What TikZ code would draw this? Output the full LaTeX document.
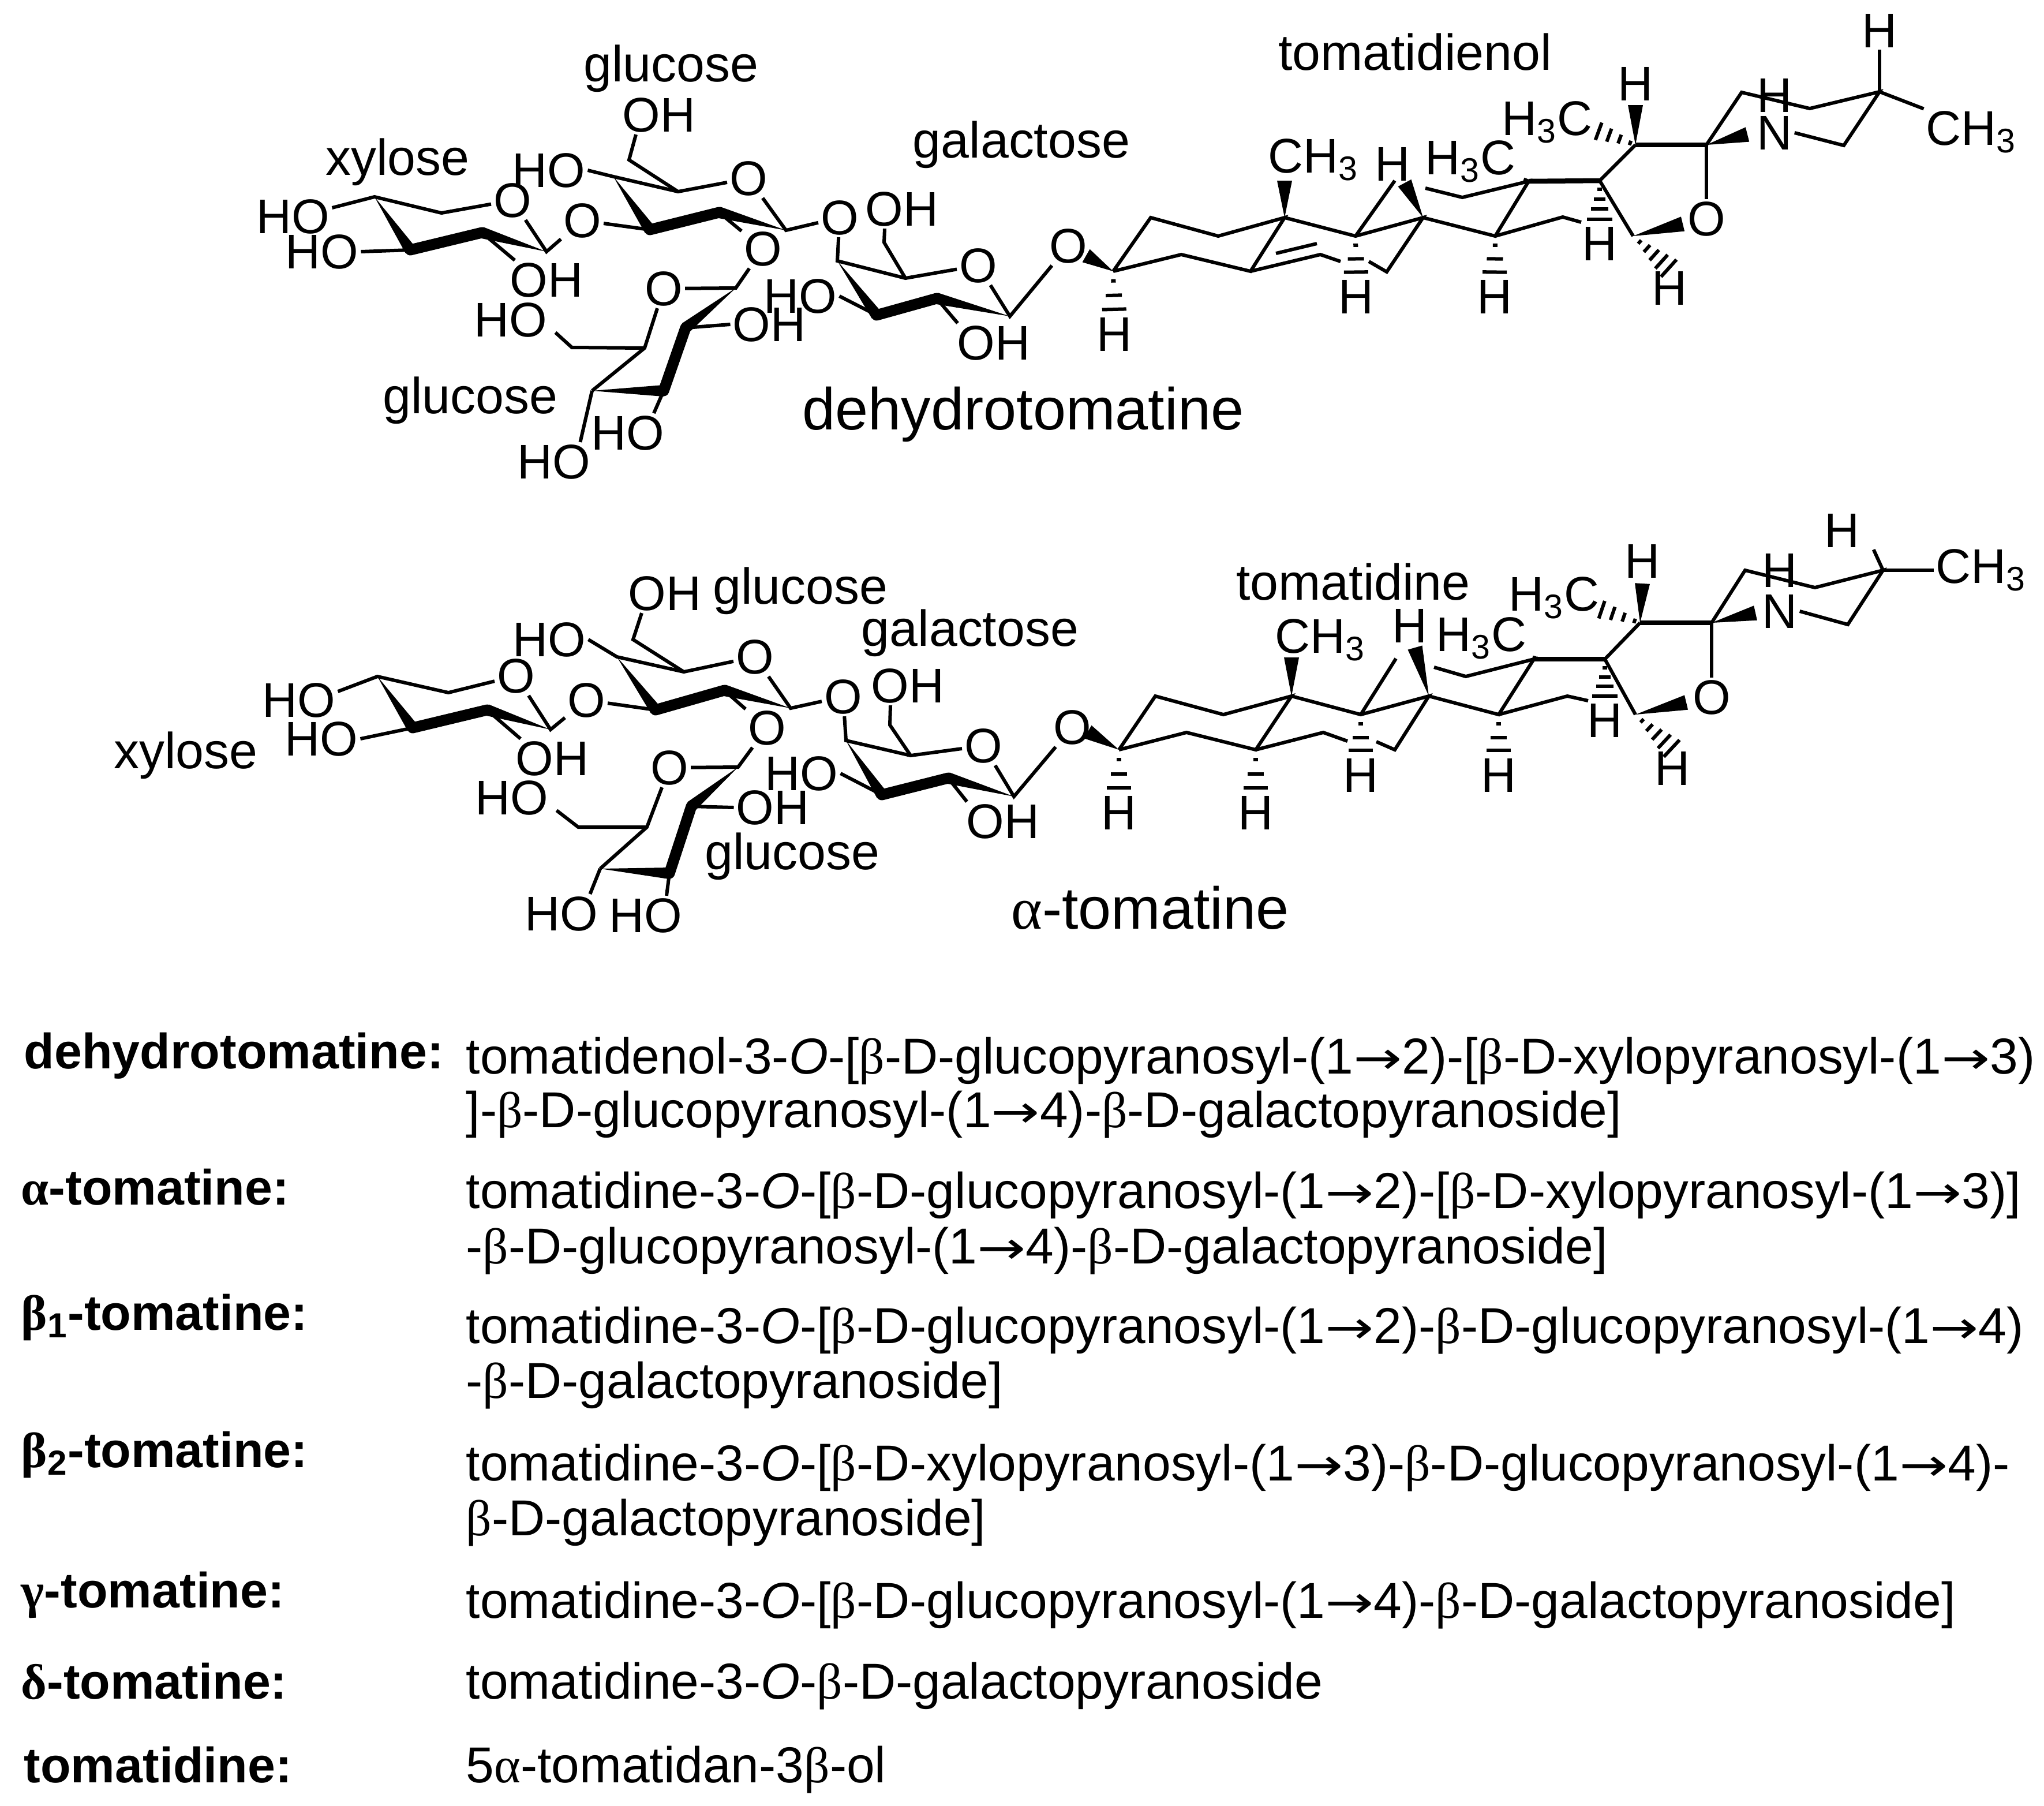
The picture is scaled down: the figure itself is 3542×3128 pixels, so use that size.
\documentclass[tikz,border=0pt]{standalone}
\usepackage{fontspec}
\setmainfont{Liberation Sans}
\newfontfamily\gk{Liberation Serif}
\newfontfamily\dv{DejaVu Sans}
\usetikzlibrary{calc}
\newcommand\grA{{\gk α}}
\newcommand\grB{{\gk β}}
\newcommand\grG{{\gk γ}}
\newcommand\grD{{\gk δ}}
\newcommand\arr{\scalebox{1.15}[.9]{\dv →}}
\newcommand\Ox{\textit{O}}
\newcommand\wdg[3][1mm]{\fill (#2) -- ($(#3)!#1!90:(#2)$) -- ($(#3)!#1!-90:(#2)$) -- cycle;}
\newcommand\hsh[3][.22/.4,.55/1.4,.87/2.1]{\foreach \t/\w in {#1}{\path ($(#2)!\t!(#3)$) coordinate (hm);\draw[line width=.6mm] ($(hm)!\w mm!90:(#3)$) -- ($(hm)!\w mm!-90:(#3)$);}}
\newcommand\pts[2]{\foreach \n/\x/\y in {#2}{\coordinate (#1\n) at (\x,\y);}}
\newcommand\ats[2]{\foreach \n/\x/\y/\t in {#2}{\node[atom] (#1\n) at (\x,\y) {\t};}}
% sugar part, common to both molecules
\newcommand\sugars[1]{%
 \draw[bond] ([yshift=1.5mm]#1xHOa.east) -- (#1x4) -- (#1x5) -- (#1xO) -- (#1x1) -- (#1lO);
 \draw[bond] (#1x3) -- (#1xHOb.east);
 \draw[bond] (#1x2) -- ([xshift=-5.5mm]#1xOH.north);
 \draw[heavy] (#1x3) -- (#1x2);
 \wdg{#1x4}{#1x3}\wdg{#1x1}{#1x2}
 \draw[bond] (#1lO) -- (#1g3);
 \draw[bond] (#1gHO.east) -- (#1g4) -- (#1g5) -- (#1gO) -- (#1g1) -- (#1oG);
 \draw[bond] (#1g5) -- (#1gch) -- ([xshift=-4mm]#1gOH.south);
 \draw[heavy] (#1g3) -- (#1g2);
 \wdg{#1g4}{#1g3}\wdg{#1g1}{#1g2}
 \draw[bond] (#1g2) -- (#1gOb);
 \draw[bond] (#1gOb) -- (#1h1) -- (#1hO) -- (#1h5) -- (#1h4);
 \draw[bond] (#1h5) -- (#1hch) -- ([xshift=1mm,yshift=1.2mm]#1hHO.south east);
 \draw[bond] (#1h2) -- (#1hOH.west);
 \draw[heavy] (#1h2) -- (#1h3);
 \wdg{#1h1}{#1h2}\wdg{#1h4}{#1h3}
 \draw[bond] (#1oG) -- (#1k4) -- (#1k5) -- (#1kO) -- (#1k1) -- (#1oS);
 \draw[bond] (#1k5) -- (#1kch) -- ([xshift=-3mm]#1kOH.south);
 \draw[heavy] (#1k3) -- (#1k2);
 \wdg{#1k4}{#1k3}\wdg{#1k1}{#1k2}
 \draw[bond] (#1k3) -- (#1kHO.east);
 \draw[bond] (#1k2) -- ([xshift=.5mm]#1kOHb.north west);
}
% steroid part, common to both molecules
\newcommand\steroid[1]{%
 \draw[bond] (#1c3) -- (#1c2) -- (#1c1) -- (#1c10) -- (#1c5) -- (#1c4) -- (#1c3);
 \draw[bond] (#1c5) -- (#1c6) -- (#1c6e);
 \draw[bond] (#1c10) -- (#1c9) -- (#1c8) -- (#1c7) -- (#1c7e);
 \draw[bond] (#1c9) -- (#1c11);
 \draw[bond] (#1c12a) -- (#1c12) -- (#1c13) -- (#1c14) -- (#1c8);
 \draw[bond] (#1c14) -- (#1c15) -- (#1c15e);
 \draw[bond] (#1c16) -- (#1c17);
 \draw[heavyb] (#1c13) -- (#1c17);
 \draw[bond] (#1c17) -- (#1c20);
 \draw[heavyb] (#1c20) -- (#1c22);
 \draw[bond] (#1c22) -- (#1sO);
 \draw[bond] (#1c22) -- (#1p1) -- (#1p2) -- (#1p3) -- (#1p4) -- (#1N.east);
 \wdg[1.3mm]{#1c3}{#1wO}
 \wdg[1.3mm]{#1c10}{#1wM}
 \wdg[1.3mm]{#1c8}{#1wH}
 \wdg[1.3mm]{#1c16}{#1wS}
 \wdg[1.3mm]{#1c20}{#1wT}
 \wdg[1.3mm]{#1c22}{#1wN}
 \hsh{#1c3}{#1H3.north}
 \hsh{#1c9}{#1H9.north}
 \hsh{#1c14}{#1H14.north}
 \hsh[.2/.4,.42/1,.64/1.5,.88/2.2]{#1c17}{#1H17.north}
 \hsh[.18/.4,.38/.8,.58/1.2,.78/1.6,.98/2]{#1c16}{#1H16.north}
 \hsh[.12/.4,.36/.8,.6/1.2,.84/1.6]{#1c20}{#1Hc20}
 \draw[bond] (#1c13) -- ([xshift=1mm,yshift=1mm]#1HC13.south east);
}
\begin{document}
\begin{tikzpicture}[x=0.1mm,y=-0.1mm,
 bond/.style={line width=.6mm,line join=miter},
 heavy/.style={line width=1.9mm,line cap=round},
 heavyb/.style={line width=.85mm},
 atom/.style={font=\fontsize{24}{26}\selectfont,inner sep=1pt},
 sugarlabel/.style={font=\fontsize{25}{27}\selectfont,inner sep=0pt},
 compound/.style={font=\fontsize{29.2}{32}\selectfont,inner sep=0pt},
 rowhead/.style={font=\fontsize{24.5}{28}\selectfont\bfseries,anchor=base west,inner sep=0pt},
 rowbody/.style={font=\fontsize{24.9}{28}\selectfont,anchor=base west,inner sep=0pt}]
\useasboundingbox[fill=white] (0,0) rectangle (3542,3128);
% ---------- dehydrotomatine
\pts{a}{x4/649/341,x5/765/369,x1/947/436,x2/835/403,x3/711/433,
 g4/1063/306,g5/1175/332,gch/1090/277,g1/1362/399,g2/1246/368,g3/1126/398,
 h1/1275/499,h2/1188/568,h3/1150/677,h4/1026/677,h5/1117/603,hch/991/602,
 k4/1451/452,k5/1569/482,kch/1532/420,k3/1519/546,k2/1623/517,k1/1750/548,
 c3/1929/470,c2/1994/377,c1/2111/409,c10/2226/377,c5/2167/470,c4/2047/441,
 c9/2349/409,c8/2466/377,c6/2288/441,c6e/2323/453,c7/2403/471,c7e/2372/453,
 c11/2417/313,c12a/2470/326,c12/2534/342,c13/2649/314,c14/2591/409,
 c15/2708/376,c15e/2740/385,c16/2830/409,c17/2772/313,c20/2834/251,c22/2957/251,
 p1/3018/160,p2/3136/188,p3/3257/159,p4/3195/252,
 wO/1882/443,wM/2226/313,wH/2434/317,wS/2916/388,wT/2834/182,wN/3028/233,
 Hc20/2758/223,db1/2211/439,db2/2282/422}
\ats{a}{xO/888/347/O,xHOa/508/375/HO,xHOb/558/436/HO,xOH/947/485/OH,lO/1009/382/O,
 gOH/1142/199/OH,gO/1297/309/O,gHO/951/295/HO,gOb/1322/431/O,oG/1455/377/O,
 hO/1150/500/O,hHO/885/554/HO,hOH/1333/562/OH,hHOa/1088/750/HO,hHOb/960/800/HO,
 kOH/1563/362/OH,kHO/1387/513/HO,kO/1695/460/O,kOHb/1722/594/OH,oS/1851/426/O,
 H3/1931/579/H,H9/2350/514/H,H14/2590/514/H,H17/2772/422/H,H16/2893/499/H,
 H8/2413/284/H,Mt/2276/277/CH\textsubscript{3},HC13/2548/280/H\textsubscript{3}C,
 HC20/2681/212/H\textsubscript{3}C,H20/2834/145/H,sO/2957/379/O,N/3075/230/N,Hn/3075/165/H,
 Hp/3257/53/H,Mp/3416/229/CH\textsubscript{3}}
\sugars{a}
\draw[bond] (ah4) -- ([xshift=-2.2mm]ahHOb.north east);
\draw[bond] (ah3) -- ([xshift=4.5mm]ahHOa.north);
\steroid{a}
\draw[bond] (adb1) -- (adb2);
\draw[bond] (ap3) -- (aHp.south);
\draw[bond] (ap3) -- (aMp.north west);
\node[sugarlabel] (ln1) at (1163,119) {glucose};
\node[sugarlabel] (ln2) at (689,281) {xylose};
\node[sugarlabel] (ln3) at (815,694) {glucose};
\node[sugarlabel] (ln4) at (1770,251) {galactose};
\node[sugarlabel] (ln5) at (2452,90) {tomatidienol};
\node[compound] (ln6) at (1773,718) {dehydrotomatine};
% ---------- alpha-tomatine
\pts{b}{x4/654/1172,x5/777/1200,x1/954/1264,x2/844/1230,x3/715/1261,
 g4/1069/1138,g5/1185/1164,gch/1097/1108,g1/1370/1227,g2/1255/1196,g3/1136/1230,
 h1/1279/1329,h2/1198/1397,h3/1160/1513,h4/1040/1505,h5/1121/1433,hch/1002/1433,
 k4/1466/1283,k5/1578/1309,kch/1542/1256,k3/1528/1377,k2/1643/1348,k1/1757/1380,
 c3/1939/1299,c2/2002/1206,c1/2120/1238,c10/2238/1206,c5/2176/1299,c4/2056/1269,
 c9/2358/1238,c8/2476/1206,c6/2293/1269,c6e/2335/1284,c7/2417/1299,c7e/2385/1285,
 c11/2419/1141,c12a/2485/1156,c12/2540/1172,c13/2658/1142,c14/2597/1238,
 c15/2716/1206,c15e/2752/1214,c16/2834/1238,c17/2781/1142,c20/2842/1079,c22/2966/1079,
 p1/3024/988,p2/3145/1018,p3/3263/988,p4/3202/1082,
 wO/1885/1268,wM/2238/1139,wH/2452/1122,wS/2922/1217,wT/2846/1011,wN/3042/1062,
 Hc20/2763/1052}
\ats{b}{xO/894/1171/O,xHOa/518/1213/HO,xHOb/557/1280/HO,xOH/957/1314/OH,lO/1016/1213/O,
 gOH/1152/1028/OH,gO/1308/1138/O,gHO/952/1108/HO,gOb/1329/1261/O,oG/1461/1207/O,
 hO/1160/1330/O,hHO/887/1382/HO,hOH/1339/1399/OH,hHOa/1119/1586/HO,hHOb/973/1583/HO,
 kOH/1573/1188/OH,kHO/1389/1340/HO,kO/1704/1292/O,kOHb/1738/1423/OH,oS/1858/1260/O,
 H3/1939/1408/H,H5/2176/1408/H,H9/2358/1343/H,H14/2597/1343/H,H17/2781/1248/H,H16/2898/1331/H,
 H8/2443/1084/H,Mt/2288/1109/CH\textsubscript{3},HC13/2567/1106/H\textsubscript{3}C,
 HC20/2693/1036/H\textsubscript{3}C,H20/2846/972/H,sO/2966/1208/O,N/3084/1059/N,Hn/3084/988/H,
 Hp/3192/919/H,Mp/3433/988/CH\textsubscript{3}}
\sugars{b}
\draw[bond] (bh4) -- ([xshift=-1.8mm]bhHOb.north east);
\draw[bond] (bh3) -- ([xshift=3.6mm]bhHOa.north);
\steroid{b}
\hsh{bc5}{bH5.north}
\draw[bond] (bp3) -- ([xshift=2mm]bHp.south east);
\draw[bond] (bp3) -- (bMp.west);
\node[sugarlabel] (mn1) at (1387,1024) {glucose};
\node[sugarlabel] (mn2) at (322,1309) {xylose};
\node[sugarlabel] (mn3) at (1373,1484) {glucose};
\node[sugarlabel] (mn4) at (1681,1097) {galactose};
\node[sugarlabel] (mn5) at (2345,1008) {tomatidine};
\node[compound] (mn6) at (1993,1573) {\grA-tomatine};
% ---------- table
\node[rowhead] (t1) at (41,1851) {dehydrotomatine:};
\node[rowbody] (t1a) at (807,1860) {tomatidenol-3-\Ox-[\grB-D-glucopyranosyl-(1\arr2)-[\grB-D-xylopyranosyl-(1\arr3)};
\node[rowbody] (t1b) at (807,1953) {]-\grB-D-glucopyranosyl-(1\arr4)-\grB-D-galactopyranoside]};
\node[rowhead] (t2) at (36,2087) {\grA-tomatine:};
\node[rowbody] (t2a) at (807,2093) {tomatidine-3-\Ox-[\grB-D-glucopyranosyl-(1\arr2)-[\grB-D-xylopyranosyl-(1\arr3)]};
\node[rowbody] (t2b) at (807,2189) {-\grB-D-glucopyranosyl-(1\arr4)-\grB-D-galactopyranoside]};
\node[rowhead] (t3) at (36,2304) {\grB\textsubscript{1}-tomatine:};
\node[rowbody] (t3a) at (807,2327) {tomatidine-3-\Ox-[\grB-D-glucopyranosyl-(1\arr2)-\grB-D-glucopyranosyl-(1\arr4)};
\node[rowbody] (t3b) at (807,2422) {-\grB-D-galactopyranoside]};
\node[rowhead] (t4) at (36,2542) {\grB\textsubscript{2}-tomatine:};
\node[rowbody] (t4a) at (807,2565) {tomatidine-3-\Ox-[\grB-D-xylopyranosyl-(1\arr3)-\grB-D-glucopyranosyl-(1\arr4)-};
\node[rowbody] (t4b) at (807,2660) {\grB-D-galactopyranoside]};
\node[rowhead] (t5) at (36,2785) {\grG-tomatine:};
\node[rowbody] (t5a) at (807,2803) {tomatidine-3-\Ox-[\grB-D-glucopyranosyl-(1\arr4)-\grB-D-galactopyranoside]};
\node[rowhead] (t6) at (36,2943) {\grD-tomatine:};
\node[rowbody] (t6a) at (807,2943) {tomatidine-3-\Ox-\grB-D-galactopyranoside};
\node[rowhead] (t7) at (41,3088) {tomatidine:};
\node[rowbody] (t7a) at (807,3088) {5\grA-tomatidan-3\grB-ol};
\end{tikzpicture}
\end{document}
